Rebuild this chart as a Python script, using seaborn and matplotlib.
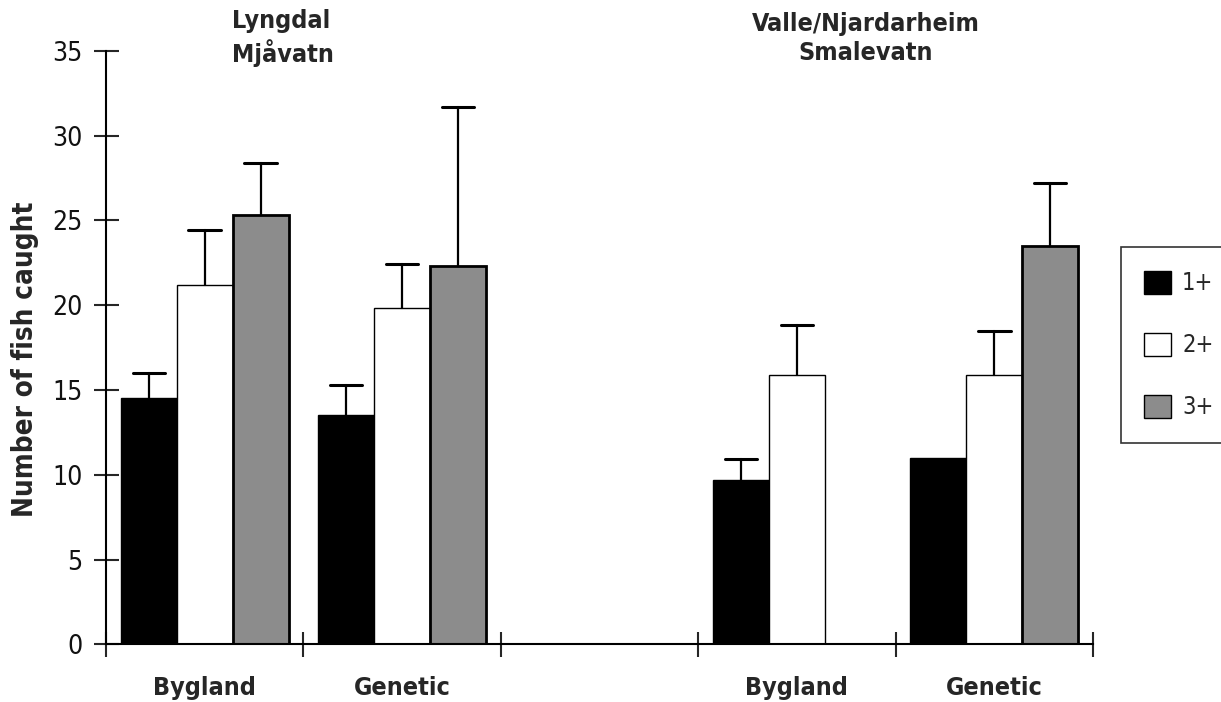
import numpy as np
import pandas as pd
import matplotlib
matplotlib.use("Agg")
import matplotlib.pyplot as plt
import matplotlib.transforms as mtransforms
import seaborn as sns

# ---- data ----
slots = ["Bygland", "Genetic", "", "Bygland", "Genetic"]
ages = ["1+", "2+", "3+"]
# values per slot (None = no bar)
val_1 = [14.5, 13.5, None, 9.7, 11.0]
val_2 = [21.2, 19.8, None, 15.9, 15.9]
val_3 = [25.3, 22.3, None, None, 23.5]
err_1 = [1.5, 1.8, None, 1.2, None]
err_2 = [3.2, 2.6, None, 2.9, 2.6]
err_3 = [3.1, 9.4, None, None, 3.7]
titles = ["Lyngdal\nMjåvatn", "Valle/Njardarheim\nSmalevatn"]
colors = ["#000000", "#ffffff", "#8c8c8c"]

slot_keys = [f"s{i}" for i in range(len(slots))]
rows = []
for a, vals, errs in zip(ages, [val_1, val_2, val_3], [err_1, err_2, err_3]):
    for k, v, e in zip(slot_keys, vals, errs):
        if v is not None:
            rows.append({"slot": k, "age": a, "value": v, "err": e})
df = pd.DataFrame(rows)

sns.set_style("white")
plt.rcParams["font.family"] = ["DejaVu Sans"]
bold = dict(family=["DejaVu Sans"], fontweight="bold", fontstretch="condensed")
plain = dict(family=["DejaVu Sans"], fontweight="normal", fontstretch="condensed")

fig = plt.figure(figsize=(12.21, 7.02), dpi=100)
ax = fig.add_axes([106 / 1221, 1 - 644.3 / 702, (1093 - 106) / 1221, (644.3 - 50.7) / 702])

sns.barplot(data=df, x="slot", y="value", hue="age", order=slot_keys, hue_order=ages,
            palette=colors, width=0.85, errorbar=None, edgecolor="black", linewidth=1.0,
            saturation=1, ax=ax)

# style bars and error bars
for lvl, cont in zip(ages, ax.containers):
    for bar in cont:
        cx = bar.get_x() + bar.get_width() / 2
        slot = slot_keys[int(round(cx))]
        if lvl == "3+":
            bar.set_linewidth(2.0)
        sub = df[(df.slot == slot) & (df.age == lvl)]
        if len(sub) and pd.notna(sub.err.iloc[0]):
            top = bar.get_height()
            e = sub.err.iloc[0]
            ax.plot([cx, cx], [top, top + e], color="black", lw=1.6, zorder=1)
            hw = bar.get_width() * 0.29
            ax.plot([cx - hw, cx + hw], [top + e, top + e], color="black", lw=2.2, zorder=1)

ax.set_ylim(0, 35)
ax.set_xlim(-0.5, len(slots) - 0.5)
ax.set_yticks(np.arange(0, 36, 5))
ax.set_yticklabels([str(v) for v in range(0, 36, 5)], fontsize=19, color="#111111", **plain)
ax.tick_params(axis="y", direction="inout", length=18, width=1.5, pad=8, left=True)

ax.set_xticks(np.arange(-0.5, len(slots), 1.0))
ax.set_xticklabels([])
ax.set_xticks(np.arange(len(slots)), minor=True)
ax.set_xticklabels(slots, minor=True, fontsize=18, **bold)
ax.tick_params(axis="x", which="major", direction="inout", length=18, width=1.5, bottom=True)
ax.tick_params(axis="x", which="minor", length=0, pad=23)

for s in ["top", "right"]:
    ax.spines[s].set_visible(False)
for s in ["left", "bottom"]:
    ax.spines[s].set_color("black")
    ax.spines[s].set_linewidth(1.5)

ax.set_xlabel("")
ax.set_ylabel("Number of fish caught", fontsize=20, **bold)
ax.yaxis.set_label_coords(-0.068, 0.48)

trans = mtransforms.blended_transform_factory(ax.transData, ax.transAxes)
ax.text(0.138, 1.021, titles[0], transform=trans, ha="left", va="center",
        fontsize=18, linespacing=1.25, multialignment="left", **bold)
ax.text(3.35, 1.021, titles[1], transform=trans, ha="center", va="center",
        fontsize=18, linespacing=1.25, multialignment="center", **bold)

sns.move_legend(ax, loc="upper left", bbox_to_anchor=(1120.7 / 1221, 1 - 247 / 702),
                bbox_transform=fig.transFigure, title=None, frameon=True,
                prop=dict(size=17, family="DejaVu Sans", stretch="condensed"),
                handlelength=1.15, handleheight=1.15, labelspacing=1.58, borderpad=1.0,
                handletextpad=0.45, fancybox=False, borderaxespad=0)
leg = ax.get_legend()
leg.get_frame().set_edgecolor("black")
leg.get_frame().set_linewidth(1.2)
for h in leg.legend_handles:
    h.set_edgecolor("black")
    h.set_linewidth(1.0)

fig.savefig("out.png", dpi=100)
